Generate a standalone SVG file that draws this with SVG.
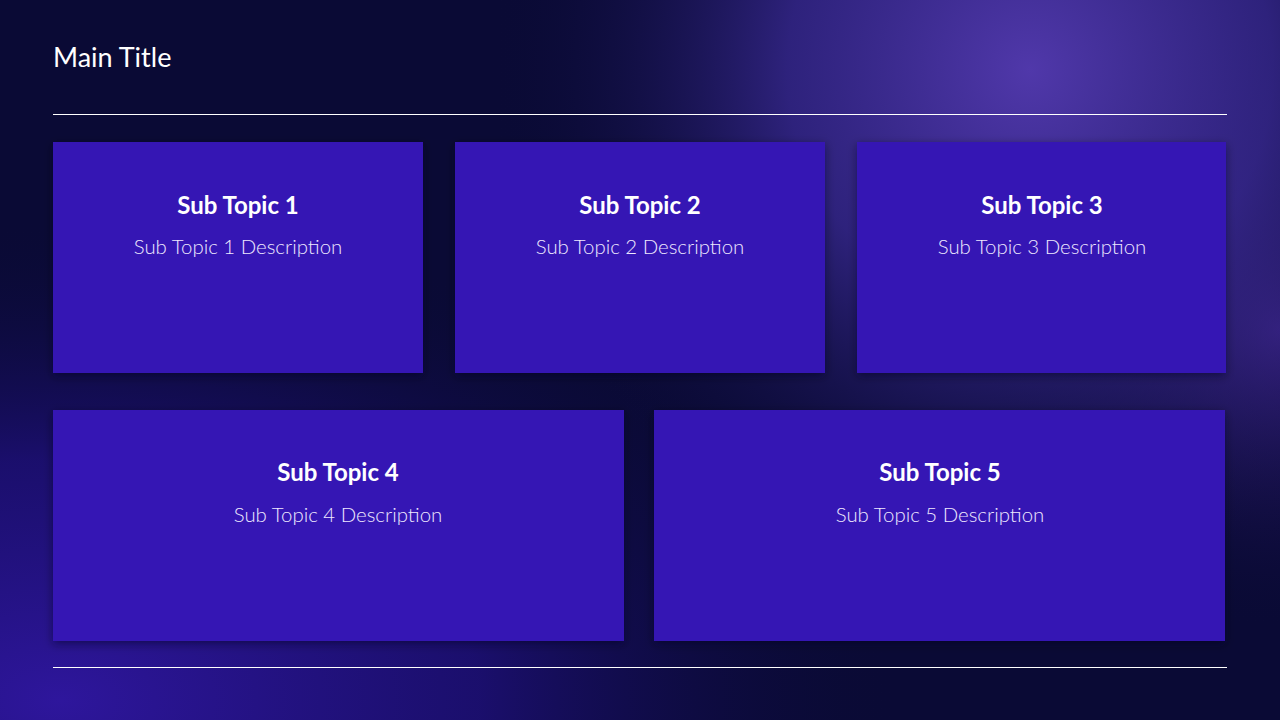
<svg xmlns="http://www.w3.org/2000/svg" width="1280" height="720" viewBox="0 0 1280 720">
<defs>
<radialGradient id="g1" cx="1030" cy="70" r="540" gradientUnits="userSpaceOnUse">
<stop offset="0" stop-color="#5038aa"/>
<stop offset="0.45" stop-color="#3a2a94" stop-opacity="0.75"/>
<stop offset="1" stop-color="#0a0a35" stop-opacity="0"/>
</radialGradient>
<radialGradient id="g2" cx="60" cy="700" r="600" gradientTransform="translate(60 700) scale(1.4 0.8) translate(-60 -700)" gradientUnits="userSpaceOnUse">
<stop offset="0" stop-color="#2e169c"/>
<stop offset="0.5" stop-color="#20107f" stop-opacity="0.75"/>
<stop offset="1" stop-color="#0a0a35" stop-opacity="0"/>
</radialGradient>
<radialGradient id="g3" cx="1280" cy="330" r="300" gradientUnits="userSpaceOnUse">
<stop offset="0" stop-color="#4a2aa0" stop-opacity="0.8"/>
<stop offset="1" stop-color="#0a0a35" stop-opacity="0"/>
</radialGradient>
<filter id="sh" x="-10%" y="-10%" width="120%" height="125%">
<feDropShadow dx="0" dy="3" stdDeviation="5" flood-color="#050520" flood-opacity="0.5"/>
</filter>
<style>
.box{fill:#3613b4;filter:url(#sh)}
.h{font-family:"Source Sans Pro","Lato","Noto Sans",sans-serif;font-weight:700;font-size:24px;fill:#ffffff;text-anchor:middle}
.d{font-family:"Source Sans Pro","Lato","Noto Sans",sans-serif;font-weight:300;font-size:20.4px;fill:#eee8ff;text-anchor:middle}
.rule{stroke:#ffffff;stroke-width:1.2}
</style>
</defs>
<rect width="1280" height="720" fill="#0a0a35"/>
<rect width="1280" height="720" fill="url(#g2)"/>
<rect width="1280" height="720" fill="url(#g3)"/>
<rect width="1280" height="720" fill="url(#g1)"/>
<text x="53" y="67" font-family="Source Sans Pro, Lato, Noto Sans, sans-serif" font-size="27" fill="#ffffff">Main Title</text>
<line class="rule" x1="53" y1="114.5" x2="1227" y2="114.5"/>
<line class="rule" x1="53" y1="667.5" x2="1227" y2="667.5"/>
<g id="node1"><rect class="box" x="53" y="142" width="370" height="231"/><text class="h" x="238" y="214">Sub Topic 1</text><text class="d" x="238" y="254">Sub Topic 1 Description</text></g>
<g id="node2"><rect class="box" x="455" y="142" width="370" height="231"/><text class="h" x="640" y="214">Sub Topic 2</text><text class="d" x="640" y="254">Sub Topic 2 Description</text></g>
<g id="node3"><rect class="box" x="857" y="142" width="369" height="231"/><text class="h" x="1042" y="214">Sub Topic 3</text><text class="d" x="1042" y="254">Sub Topic 3 Description</text></g>
<g id="node4"><rect class="box" x="53" y="410" width="571" height="231"/><text class="h" x="338" y="481">Sub Topic 4</text><text class="d" x="338" y="522">Sub Topic 4 Description</text></g>
<g id="node5"><rect class="box" x="654" y="410" width="571" height="231"/><text class="h" x="940" y="481">Sub Topic 5</text><text class="d" x="940" y="522">Sub Topic 5 Description</text></g>
<g id="connectors"/>
</svg>
